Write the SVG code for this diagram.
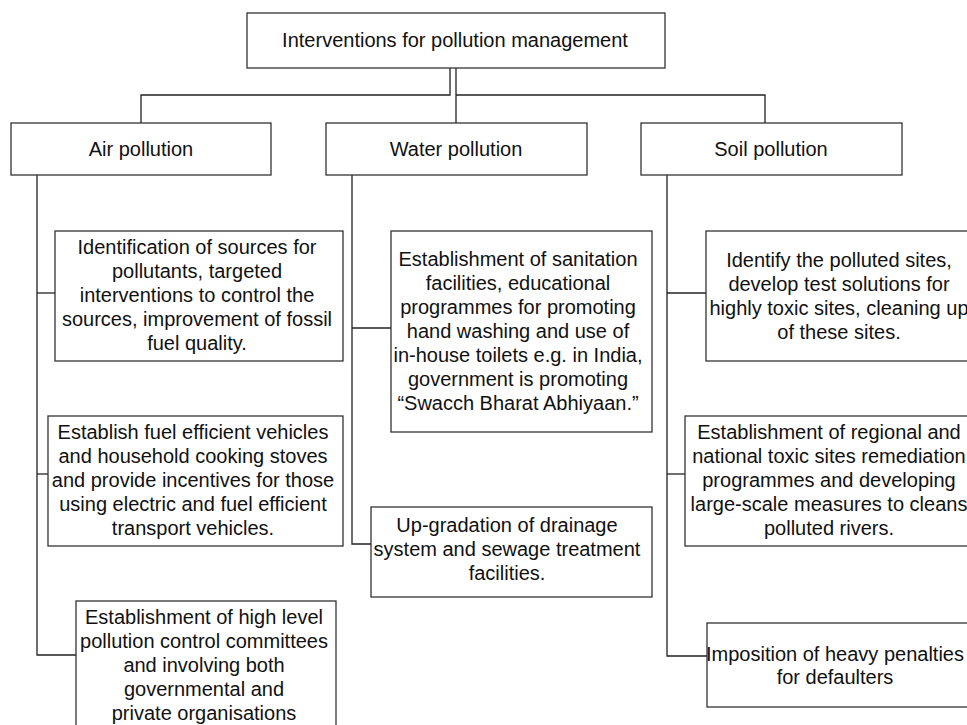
<svg xmlns="http://www.w3.org/2000/svg" width="967" height="725" viewBox="0 0 967 725">
<style>
.box{fill:#fff;stroke:#333;stroke-width:1.3}
.ln{fill:none;stroke:#222;stroke-width:1.3}
text{font-family:"Liberation Sans",Arial,sans-serif;font-size:20px;fill:#111;text-anchor:middle}
</style>
<rect width="967" height="725" fill="#fff"/>
<g id="connectors">
<path class="ln" d="M450,68 V95 H141 V123"/>
<path class="ln" d="M456,68 V123"/>
<path class="ln" d="M456,95 H765 V123"/>
<path class="ln" d="M37,175 V655 H76"/>
<path class="ln" d="M37,293 H55"/>
<path class="ln" d="M37,474 H48"/>
<path class="ln" d="M352,175 V544 H371"/>
<path class="ln" d="M352,328 H391"/>
<path class="ln" d="M667,175 V656 H707"/>
<path class="ln" d="M667,293 H706"/>
<path class="ln" d="M667,474 H685"/>
</g>
<g id="root">
<rect class="box" x="247" y="13" width="418" height="55"/>
<text x="455" y="47">Interventions for pollution management</text>
</g>
<g id="air">
<rect class="box" x="11" y="123" width="260" height="52"/>
<text x="141" y="156">Air pollution</text>
</g>
<g id="water">
<rect class="box" x="326" y="123" width="261" height="52"/>
<text x="456" y="156">Water pollution</text>
</g>
<g id="soil">
<rect class="box" x="641" y="123" width="261" height="52"/>
<text x="771" y="156">Soil pollution</text>
</g>
<g id="air1">
<rect class="box" x="55" y="231" width="288" height="130"/>
<text x="197" y="254">Identification of sources for</text>
<text x="197" y="278">pollutants, targeted</text>
<text x="197" y="302">interventions to control the</text>
<text x="197" y="326">sources, improvement of fossil</text>
<text x="197" y="350">fuel quality.</text>
</g>
<g id="air2">
<rect class="box" x="48" y="416" width="295" height="130"/>
<text x="193" y="439">Establish fuel efficient vehicles</text>
<text x="193" y="463">and household cooking stoves</text>
<text x="193" y="487">and provide incentives for those</text>
<text x="193" y="511">using electric and fuel efficient</text>
<text x="193" y="535">transport vehicles.</text>
</g>
<g id="air3">
<rect class="box" x="76" y="601" width="260" height="140"/>
<text x="204" y="624">Establishment of high level</text>
<text x="204" y="648">pollution control committees</text>
<text x="204" y="672">and involving both</text>
<text x="204" y="696">governmental and</text>
<text x="204" y="720">private organisations</text>
</g>
<g id="water1">
<rect class="box" x="391" y="231" width="261" height="201"/>
<text x="518" y="266">Establishment of sanitation</text>
<text x="518" y="290">facilities, educational</text>
<text x="518" y="314">programmes for promoting</text>
<text x="518" y="338">hand washing and use of</text>
<text x="518" y="362">in-house toilets e.g. in India,</text>
<text x="518" y="386">government is promoting</text>
<text x="518" y="410">“Swacch Bharat Abhiyaan.”</text>
</g>
<g id="water2">
<rect class="box" x="371" y="507" width="281" height="90"/>
<text x="507" y="532">Up-gradation of drainage</text>
<text x="507" y="556">system and sewage treatment</text>
<text x="507" y="580">facilities.</text>
</g>
<g id="soil1">
<rect class="box" x="706" y="231" width="266" height="130"/>
<text x="839" y="267">Identify the polluted sites,</text>
<text x="839" y="291">develop test solutions for</text>
<text x="839" y="315">highly toxic sites, cleaning up</text>
<text x="839" y="339">of these sites.</text>
</g>
<g id="soil2">
<rect class="box" x="685" y="416" width="287" height="130"/>
<text x="829" y="439">Establishment of regional and</text>
<text x="829" y="463">national toxic sites remediation</text>
<text x="829" y="487">programmes and developing</text>
<text x="829" y="511">large-scale measures to cleans</text>
<text x="829" y="535">polluted rivers.</text>
</g>
<g id="soil3">
<rect class="box" x="707" y="623" width="265" height="84"/>
<text x="835" y="661">Imposition of heavy penalties</text>
<text x="835" y="684">for defaulters</text>
</g>
</svg>
